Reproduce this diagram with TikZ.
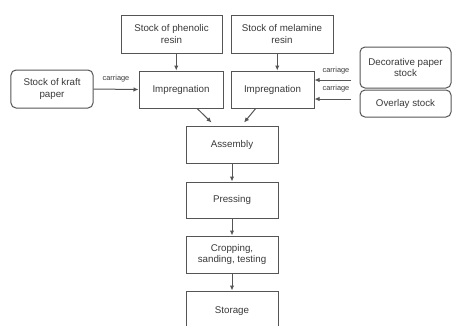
\documentclass[tikz,border=0pt]{standalone}
\usepackage{fontspec}
\setmainfont{Liberation Sans}
\usetikzlibrary{arrows.meta,calc}
\definecolor{ln}{HTML}{555555}
\definecolor{tx}{HTML}{3A3A3A}
\begin{document}
\begin{tikzpicture}[x=1bp,y=-1bp,
  box/.style={draw=ln,line width=1bp,rectangle,align=center,text=tx,font=\fontsize{9.8}{11.5}\selectfont,inner sep=1bp},
  rbox/.style={box,rounded corners=5bp},
  arr/.style={draw=ln,line width=1bp,-{Latex[length=5bp,width=4.5bp]}},
  lab/.style={text=tx,font=\fontsize{7.4}{8}\selectfont,inner sep=0.5bp}]
\useasboundingbox (0,0) rectangle (452,325);
\clip (0,0) rectangle (452,325);
\fill[white] (0,0) rectangle (452,325);
\node[box,minimum width=101bp,minimum height=38bp] (phen) at (171.5,34) {Stock of phenolic\\resin};
\node[box,minimum width=102bp,minimum height=38bp] (mel) at (282,34) {Stock of melamine\\resin};
\node[rbox,minimum width=82bp,minimum height=38bp] (kraft) at (52,89) {Stock of kraft\\paper};
\node[box,minimum width=84bp,minimum height=37bp] (imp1) at (181,89.5) {Impregnation};
\node[box,minimum width=83bp,minimum height=37bp] (imp2) at (272.5,89.5) {Impregnation};
\node[rbox,minimum width=91bp,minimum height=41bp] (deco) at (405.5,67.5) {Decorative paper\\stock};
\node[rbox,minimum width=91bp,minimum height=27bp] (over) at (405.5,103.5) {Overlay stock};
\node[box,minimum width=92bp,minimum height=37bp] (asm) at (232,144.5) {Assembly};
\node[box,minimum width=92bp,minimum height=36bp] (press) at (232,200) {Pressing};
\node[box,minimum width=92bp,minimum height=37bp] (crop) at (232,254.5) {Cropping,\\sanding, testing};
\node[box,minimum width=92bp,minimum height=40bp] (stor) at (232,311) {Storage};
% arrows
\coordinate (m1) at ($(phen.south)!0.5!(imp1.north)$);
\coordinate (m2) at ($(mel.south)!0.5!(imp2.north)$);
\draw[arr] (phen.south -| m1) -- (imp1.north -| m1);
\draw[arr] (mel.south -| m2) -- (imp2.north -| m2);
\draw[arr] (kraft.east) -- (imp1.west);
\node[lab] (c1) at (116,79) {carriage};
\coordinate (d1) at (351,80);
\coordinate (d2) at (351,99);
\draw[arr] (d1) -- (d1 -| imp2.east);
\draw[arr] (d2) -- (d2 -| imp2.east);
\node[lab] (c2) at (336,70.5) {carriage};
\node[lab] (c3) at (336,88.5) {carriage};
\coordinate (a1) at ($(imp1.south west)!0.69!(imp1.south east)$);
\coordinate (a2) at ($(imp2.south west)!0.30!(imp2.south east)$);
\coordinate (b1) at ($(asm.north west)!0.28!(asm.north east)$);
\coordinate (b2) at ($(asm.north west)!0.63!(asm.north east)$);
\draw[arr] (a1) -- ($(b1)+(0,-3)$);
\draw[arr] (a2) -- ($(b2)+(0,-3)$);
\draw[arr] (asm.south) -- (press.north);
\draw[arr] (press.south) -- (crop.north);
\draw[arr] (crop.south) -- (stor.north);
\end{tikzpicture}
\end{document}
